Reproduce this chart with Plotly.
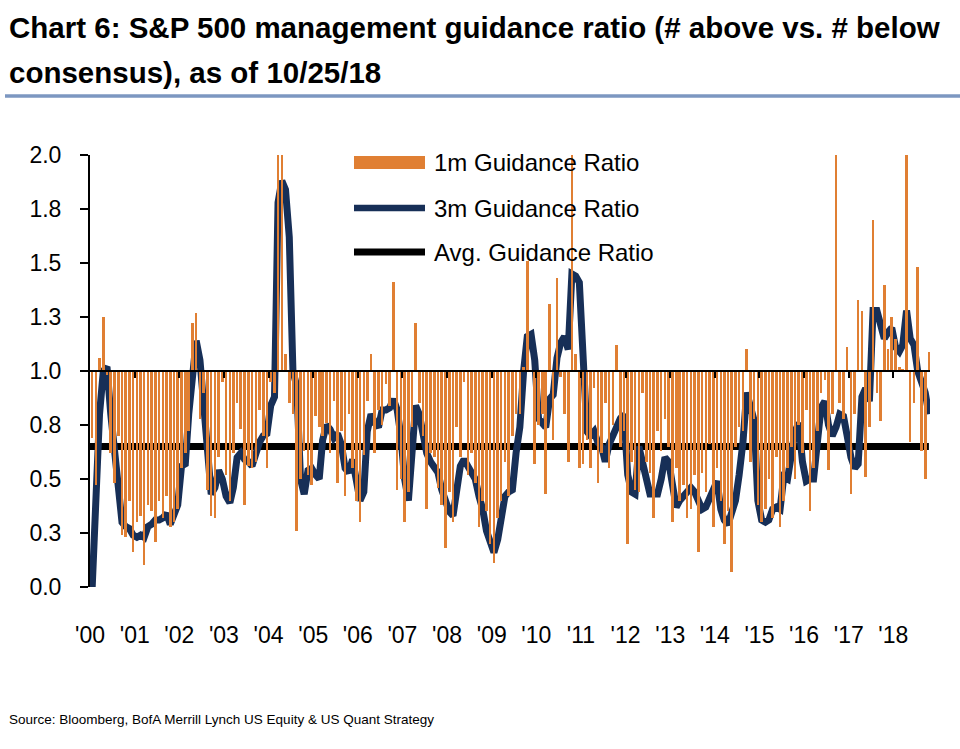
import pandas as pd
import plotly.graph_objects as go

# ---------------- data ----------------
start_month = "2000-01-01"
n_months = 226  # Jan 2000 .. Oct 2018

ratio_1m = [
    # 2000
    0.69, 0.47, 1.06, 1.25, 0.98, 0.62, 0.48, 0.70, 0.24, 0.23, 0.40, 0.16,
    # 2001
    0.30, 0.33, 0.10, 0.38, 0.35, 0.21, 0.40, 0.32, 0.42, 0.28, 0.30, 0.36,
    # 2002
    0.55, 0.62, 0.72, 1.22, 1.27, 0.78, 0.90, 0.45, 0.33, 0.32, 0.60, 0.95,
    # 2003
    0.52, 0.40, 0.62, 0.85, 0.73, 0.38, 0.56, 0.55, 0.58, 0.82, 0.70, 0.55,
    # 2004
    0.95, 0.90, 2.00, 2.00, 1.08, 0.85, 0.80, 0.26, 0.50, 0.63, 0.52, 0.47,
    # 2005
    0.79, 0.74, 0.70, 0.76, 0.62, 0.86, 0.48, 0.72, 0.42, 0.80, 0.55, 0.40,
    # 2006
    0.30, 0.61, 0.86, 1.08, 0.62, 0.82, 0.75, 0.94, 0.84, 1.41, 0.45, 0.50,
    # 2007
    0.30, 0.44, 0.74, 1.22, 0.85, 0.70, 0.36, 0.62, 0.60, 0.46, 0.38, 0.18,
    # 2008
    0.44, 0.30, 0.74, 0.60, 0.95, 0.52, 0.62, 0.48, 0.28, 0.40, 0.35, 0.20,
    # 2009
    0.11, 0.32, 0.40, 0.58, 0.42, 0.70, 0.80, 0.80, 1.02, 1.51, 1.00, 0.57,
    # 2010
    0.75, 0.80, 0.43, 1.31, 0.68, 1.43, 0.97, 0.80, 0.58, 2.00, 1.08, 0.55,
    # 2011
    0.57, 0.68, 0.55, 0.92, 0.48, 0.62, 0.85, 0.55, 0.75, 1.12, 0.65, 0.72,
    # 2012
    0.20, 0.58, 0.45, 0.44, 0.90, 0.58, 0.53, 0.32, 0.72, 0.63, 0.78, 0.65,
    # 2013
    0.30, 0.55, 0.40, 0.47, 0.32, 0.36, 0.52, 0.16, 0.53, 0.44, 0.66, 0.28,
    # 2014
    0.55, 0.40, 0.20, 0.35, 0.07, 0.65, 0.74, 0.72, 1.10, 0.58, 0.78, 0.38,
    # 2015
    0.30, 0.36, 0.50, 0.32, 0.60, 0.28, 0.40, 0.55, 0.65, 0.50, 0.75, 0.62,
    # 2016
    0.82, 0.35, 0.55, 0.72, 0.90, 0.96, 0.54, 0.80, 2.00, 0.85, 0.78, 1.11,
    # 2017
    0.43, 0.80, 1.33, 1.28, 0.51, 0.74, 1.70, 0.90, 0.77, 1.40, 1.10, 1.25,
    # 2018
    1.15, 1.02, 1.01, 2.00, 0.67, 0.85, 1.48, 0.63, 0.50, 1.09,
]

ratio_3m = [
    # 2000
    0.00, 0.52, 0.80, 1.00, 1.02, 0.80, 0.62, 0.45, 0.30, 0.28, 0.27, 0.24,
    # 2001
    0.23, 0.24, 0.23, 0.28, 0.29, 0.31, 0.31, 0.32, 0.34, 0.29, 0.34, 0.38,
    # 2002
    0.56, 0.57, 0.80, 1.00, 1.14, 1.05, 0.85, 0.62, 0.43, 0.46, 0.54, 0.50,
    # 2003
    0.42, 0.39, 0.46, 0.60, 0.62, 0.59, 0.58, 0.56, 0.63, 0.67, 0.70, 0.71,
    # 2004
    0.84, 0.88, 1.78, 1.88, 1.84, 1.62, 1.00, 0.93, 0.50, 0.43, 0.54, 0.55,
    # 2005
    0.52, 0.50, 0.68, 0.75, 0.73, 0.69, 0.71, 0.66, 0.55, 0.53, 0.59, 0.50,
    # 2006
    0.40, 0.44, 0.72, 0.80, 0.76, 0.74, 0.82, 0.82, 0.83, 0.87, 0.82, 0.70,
    # 2007
    0.50, 0.40, 0.57, 0.84, 0.80, 0.70, 0.62, 0.58, 0.56, 0.53, 0.45, 0.40,
    # 2008
    0.35, 0.33, 0.45, 0.56, 0.59, 0.56, 0.54, 0.50, 0.42, 0.36, 0.26, 0.20,
    # 2009
    0.16, 0.22, 0.30, 0.42, 0.44, 0.45, 0.62, 0.74, 1.00, 1.16, 1.17, 1.05,
    # 2010
    0.78, 0.76, 0.74, 0.87, 0.89, 1.06, 1.13, 1.16, 1.10, 1.45, 1.44, 1.41,
    # 2011
    1.00, 0.72, 0.70, 0.72, 0.67, 0.65, 0.58, 0.66, 0.70, 0.75, 0.78, 0.80,
    # 2012
    0.52, 0.44, 0.43, 0.65, 0.58, 0.50, 0.43, 0.43, 0.43, 0.50, 0.60, 0.58,
    # 2013
    0.45, 0.37, 0.40, 0.42, 0.43, 0.46, 0.44, 0.40, 0.36, 0.37, 0.41, 0.45,
    # 2014
    0.49, 0.36, 0.31, 0.29, 0.36, 0.40, 0.52, 0.67, 0.90, 0.84, 0.77, 0.40,
    # 2015
    0.31, 0.30, 0.31, 0.36, 0.37, 0.36, 0.51, 0.50, 0.60, 0.72, 0.76, 0.58,
    # 2016
    0.49, 0.50, 0.50, 0.68, 0.83, 0.86, 0.75, 0.70, 0.74, 0.80, 0.79, 0.70,
    # 2017
    0.60, 0.55, 0.57, 0.88, 0.92, 0.86, 1.28, 1.28, 1.22, 1.15, 1.18, 1.20,
    # 2018
    1.11, 1.09, 1.12, 1.28, 1.15, 1.12, 1.00, 0.94, 0.90, 0.80,
]

avg_ratio = 0.65
parity = 1.0

year_ticks = list(range(2000, 2019))
year_labels = ["'%02d" % (y % 100) for y in year_ticks]

y_tickvals = [0, 0.25, 0.5, 0.75, 1.0, 1.25, 1.5, 1.75, 2.0]
y_ticktext = ["0.0", "0.3", "0.5", "0.8", "1.0", "1.3", "1.5", "1.8", "2.0"]

title_lines = ["Chart 6: S&P 500 management guidance ratio (# above vs. # below",
               "consensus), as of 10/25/18"]
source_text = "Source: Bloomberg, BofA Merrill Lynch US Equity & US Quant Strategy"
legend_names = ["1m Guidance Ratio", "3m Guidance Ratio", "Avg. Guidance Ratio"]

# ---------------- styling ----------------
ORANGE = "#E07F33"
NAVY = "#172F57"
BLACK = "#000000"
RULE = "#7C97C1"
FONT = "Liberation Sans, Arial, sans-serif"

dates = pd.date_range(start_month, periods=n_months, freq="MS") + pd.Timedelta(days=18)
tick_dates = [pd.Timestamp(f"{y}-01-01") for y in year_ticks]
x_range = [pd.Timestamp("2000-01-01"), pd.Timestamp("2018-10-28")]

W, H = 960, 749
L, R, T, B = 90, 30, 155, 162
pw, ph = W - L - R, H - T - B


def px(xp):
    return (xp - L) / pw


def py(yp):
    return (H - B - yp) / ph


fig = go.Figure()

fig.add_trace(go.Bar(
    x=dates, y=[v - parity for v in ratio_1m], base=parity,
    marker=dict(color=ORANGE, line=dict(width=0)),
    width=21 * 86400000, name=legend_names[0], showlegend=False,
    xaxis="x2", yaxis="y",
))
fig.add_trace(go.Scatter(
    x=[x_range[0], x_range[1]], y=[parity, parity], mode="lines",
    line=dict(color=BLACK, width=2), showlegend=False, hoverinfo="skip",
    xaxis="x2", yaxis="y",
))
fig.add_trace(go.Scatter(
    x=[x_range[0]] + list(dates), y=[avg_ratio] * (n_months + 1), mode="lines",
    line=dict(color=BLACK, width=7), name=legend_names[2], showlegend=False,
))
fig.add_trace(go.Scatter(
    x=dates, y=ratio_3m, mode="lines",
    line=dict(color=NAVY, width=7), name=legend_names[1], showlegend=False,
))

fig.update_layout(
    width=W, height=H,
    margin=dict(l=L, r=R, t=T, b=B),
    paper_bgcolor="white", plot_bgcolor="white",
    bargap=0,
    showlegend=False,
    xaxis=dict(
        type="date", range=x_range, domain=[0, 1],
        tickvals=tick_dates, ticktext=year_labels,
        ticks="outside", ticklen=27, tickcolor="rgba(0,0,0,0)",
        tickfont=dict(family=FONT, size=23, color="black"),
        showline=False, showgrid=False, zeroline=False,
    ),
    xaxis2=dict(
        type="date", range=x_range, overlaying="x", matches="x",
        anchor="free", position=0.5, side="bottom",
        tickvals=tick_dates[1:], showticklabels=False,
        ticks="outside", ticklen=6, tickwidth=2, tickcolor="black",
        showline=False, showgrid=False, zeroline=False,
    ),
    yaxis=dict(
        range=[0, 2], tickvals=y_tickvals, ticktext=y_ticktext,
        ticks="outside", ticklen=8, tickwidth=2, tickcolor="black",
        showline=True, linecolor="black", linewidth=2,
        showgrid=False, zeroline=False,
        tickfont=dict(family=FONT, size=23, color="black"),
        ticklabelstandoff=14,
    ),
)

# title (two lines)
for line, yy in zip(title_lines, [27, 73]):
    fig.add_annotation(
        text="<b>" + line + "</b>",
        xref="paper", yref="paper", x=px(7), y=py(yy), xanchor="left", yanchor="middle",
        align="left", showarrow=False,
        font=dict(family=FONT, size=29.5, color="black"),
    )
# rule under title
fig.add_shape(type="line", xref="paper", yref="paper",
              x0=px(5), x1=px(960), y0=py(96), y1=py(96),
              line=dict(color=RULE, width=3.5))
# source
fig.add_annotation(
    text=source_text, xref="paper", yref="paper", x=px(7), y=py(719),
    xanchor="left", yanchor="middle", showarrow=False,
    font=dict(family=FONT, size=13.5, color="black"),
)

# legend (drawn)
fig.add_shape(type="rect", xref="paper", yref="paper",
              x0=px(354), x1=px(425), y0=py(156), y1=py(169),
              fillcolor=ORANGE, line=dict(width=0))
fig.add_shape(type="line", xref="paper", yref="paper",
              x0=px(354), x1=px(425), y0=py(208), y1=py(208),
              line=dict(color=NAVY, width=6.5))
fig.add_shape(type="line", xref="paper", yref="paper",
              x0=px(354), x1=px(425), y0=py(252), y1=py(252),
              line=dict(color=BLACK, width=7))
for name, yy in zip(legend_names, [162, 208, 252]):
    fig.add_annotation(
        text=name, xref="paper", yref="paper", x=px(432), y=py(yy),
        xanchor="left", yanchor="middle", showarrow=False,
        font=dict(family=FONT, size=24, color="black"),
    )

fig.write_html("out.html")
